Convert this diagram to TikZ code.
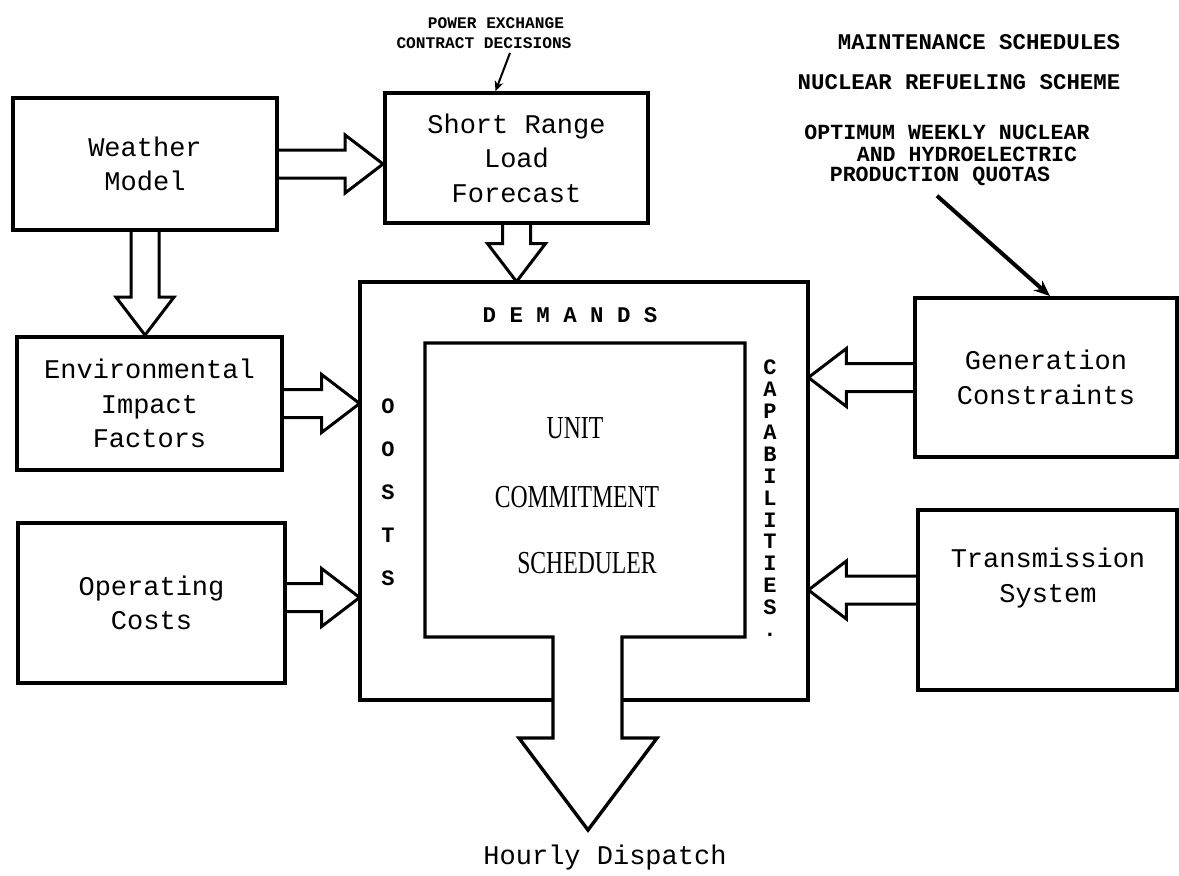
\documentclass[tikz,border=0pt]{standalone}
\usepackage{fontspec}
\setmainfont{Liberation Serif}
\newfontfamily\tw{Liberation Mono}
\usetikzlibrary{calc,arrows.meta}

% hollow block arrow from a box border (#1) to a tip (#2)
\newcommand\hollowarrow[2]{%
  \coordinate (ha-s) at #1;
  \coordinate (ha-t) at #2;
  \coordinate (ha-h) at ($(ha-t)!19pt!(ha-s)$);
  \draw[hollow] ($(ha-s)!7pt!90:(ha-t)$) -- ($(ha-h)!7pt!90:(ha-t)$)
     -- ($(ha-h)!14.5pt!90:(ha-t)$) -- (ha-t) -- ($(ha-h)!14.5pt!-90:(ha-t)$)
     -- ($(ha-h)!7pt!-90:(ha-t)$) -- ($(ha-s)!7pt!-90:(ha-t)$);
}

\begin{document}
\begin{tikzpicture}[x=0.5pt,y=-0.5pt,
  box/.style={draw,line width=1.9pt,inner sep=0pt,align=center,
    font=\tw\fontsize{13.5}{17.25}\selectfont},
  plain/.style={inner sep=0pt,align=center,font=\tw\fontsize{13.5}{17.25}\selectfont},
  hollow/.style={line width=1.5pt,line join=miter},
  frameline/.style={line width=1.7pt,line join=miter},
  caps/.style={inner sep=0pt,font=\tw\bfseries\fontsize{11.2}{12}\selectfont},
  quota/.style={inner sep=0pt,font=\tw\bfseries\fontsize{10.8}{11}\selectfont},
  smallcaps/.style={inner sep=0pt,font=\tw\bfseries\fontsize{8.1}{9}\selectfont},
  side/.style={inner sep=0pt,align=center,font=\tw\bfseries\fontsize{11}{#1}\selectfont},
  serif/.style={inner sep=0pt,font=\fontsize{16}{18}\selectfont}]

\useasboundingbox (0,0) rectangle (1179,875);
\fill[white] (0,0) rectangle (1179,875);

% input boxes
\node[box,minimum width=132pt,minimum height=66pt] (wm) at (145,164) {Weather\\Model};
\node[box,minimum width=131.5pt,minimum height=65pt] (sr) at (516.5,158) {Short Range\\Load\\Forecast};
\node[box,minimum width=132.5pt,minimum height=66.5pt] (env) at (149.5,403.5) {Environmental\\Impact\\Factors};
\node[box,minimum width=133.5pt,minimum height=80pt] (op) at (151.5,603) {Operating\\Costs};
\node[box,minimum width=131pt,minimum height=79.5pt] (gen) at (1046,377.5) {Generation\\Constraints};
\node[box,minimum width=129.5pt,minimum height=90pt] (tr) at (1047.5,600) {};
\node[plain] (trt) at (1048,578) {Transmission\\System};

% scheduler: outer frame and inner box with the dispatch arrow
\node[inner sep=0pt,minimum width=224pt,minimum height=209pt] (frame) at (584,491) {};
\draw[frameline] (553,700) -- (360,700) -- (360,282) -- (808,282) -- (808,700) -- (622,700);
\node[inner sep=0pt,minimum width=160pt,minimum height=147pt] (ucs) at (585,490) {};
\coordinate (dispatch-tip) at (588,830);
\draw[frameline] (553,637) -- (425,637) -- (425,343) -- (745,343) -- (745,637) -- (622,637)
   -- (622,738) -- (657,738) -- (dispatch-tip) -- (519,738) -- (553,738) -- cycle;

\node[caps] (dem) at (570,315) {D E M A N D S};
\node[side=21.5pt] (costs) at (388,492) {O\\O\\S\\T\\S};
\node[side=10.9pt] (cap) at (770,498) {C\\A\\P\\A\\B\\I\\L\\I\\T\\I\\E\\S\\.};
\node[serif] (u1) at (575,428) {\scalebox{0.74}[1]{UNIT}};
\node[serif] (u2) at (577,497) {\scalebox{0.74}[1]{COMMITMENT}};
\node[serif] (u3) at (587,563) {\scalebox{0.74}[1]{SCHEDULER}};
\node[plain] (hd) at (605,858) {Hourly Dispatch};

% block arrows into the scheduler
\hollowarrow{(wm.east)}{(wm.east -| sr.west)}
\hollowarrow{(wm.south)}{(wm.south |- env.north)}
\hollowarrow{(sr.south)}{(sr.south |- frame.north)}
\hollowarrow{(env.east)}{(env.east -| frame.west)}
\hollowarrow{([yshift=2.75pt]op.east)}{([yshift=2.75pt]op.east -| frame.west)}
\hollowarrow{(gen.west)}{(gen.west -| frame.east)}
\hollowarrow{([yshift=5pt]tr.west)}{([yshift=5pt]tr.west -| frame.east)}

% annotations
\node[smallcaps] (pe1) at (496,23) {POWER EXCHANGE};
\node[smallcaps] (pe2) at (484,43) {CONTRACT DECISIONS};
\draw[line width=1pt,-{Stealth[length=5pt,width=4.5pt]}] ($(pe2.south)+(26,4)$) -- ($(sr.north)+(-21,0)$);

\node[caps] (ms) at (979,42) {MAINTENANCE SCHEDULES};
\node[caps] (nr) at (959,82) {NUCLEAR REFUELING SCHEME};
\node[quota] (q1) at (947,132) {OPTIMUM WEEKLY NUCLEAR};
\node[quota] (q2) at (967,154) {AND HYDROELECTRIC};
\node[quota] (q3) at (940,176) {PRODUCTION QUOTAS};
\draw[line width=2pt,-{Stealth[length=8pt,width=6.5pt]}] ($(q3.south)+(-3,10)$) -- ($(gen.north)+(4,0)$);
\end{tikzpicture}
\end{document}
